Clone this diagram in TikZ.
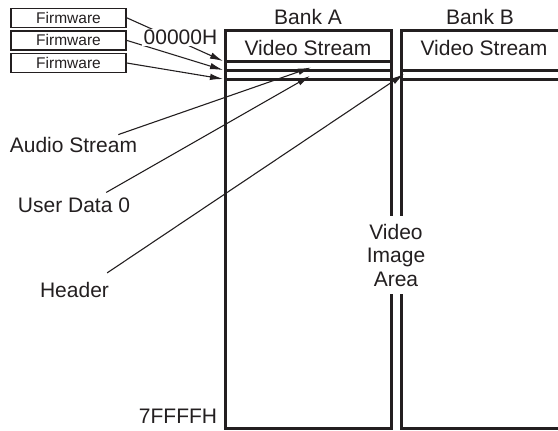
\documentclass[tikz,border=0pt]{standalone}
\usepackage{fontspec}
\setmainfont{Liberation Sans}
\usetikzlibrary{arrows.meta, positioning}
\definecolor{ink}{HTML}{231F20}

\begin{document}
\begin{tikzpicture}[
  x=1pt, y=-1pt, color=ink,
  bank/.style={rectangle, draw, line width=3pt, minimum width=166pt, minimum height=398pt, inner sep=0pt},
  firmware/.style={rectangle, draw, line width=1.6pt, minimum width=115pt, minimum height=19pt, inner sep=0pt, font=\fontsize{15.5}{17}\selectfont},
  lbl/.style={inner sep=2pt, font=\fontsize{21}{23.5}\selectfont},
  divider/.style={line width=3pt},
  pointer/.style={line width=1.1pt, -{Latex[length=13pt,width=6.5pt]}}
]
\clip (0,0) rectangle (558,431);

% Memory banks
\node[bank] (bankA) at (308,229) {};
\node[bank] (bankB) at (484,229) {};
\node[lbl, above=2pt of bankA] (bankAlbl) {Bank A};
\node[lbl, above=2pt of bankB, xshift=-4pt] (bankBlbl) {Bank B};

% Row dividers
\draw[divider] (225,61) -- (391,61);
\draw[divider] (225,70) -- (391,70);
\draw[divider] (225,79) -- (391,79);
\draw[divider] (401,70) -- (567,70);
\draw[divider] (401,79) -- (567,79);

\node[lbl] (streamA) at (308,47.5) {Video Stream};
\node[lbl] (streamB) at (484,47.5) {Video Stream};

% Firmware blocks
\node[firmware] (fw1) at (68.5,17.8) {Firmware};
\node[firmware, below=2pt of fw1] (fw2) {Firmware};
\node[firmware, below=2pt of fw2] (fw3) {Firmware};

\coordinate (fwTip1) at (223,61);
\coordinate (fwTip2) at (223,70);
\coordinate (fwTip3) at (223,79);
\draw[pointer] (fw1.east) -- (fwTip1);
\draw[pointer] (fw2.east) -- (fwTip2);
\draw[pointer] (fw3.east) -- (fwTip3);

% Addresses
\node[lbl, fill=white, inner sep=1.5pt] (startAddr) at (180.5,37.5) {00000H};
\node[lbl, anchor=base] (endAddr) at (178,423) {7FFFFH};

% Stream labels
\node[lbl, anchor=base] (audio) at (73.5,152) {Audio Stream};
\node[lbl, anchor=base] (userdata) at (74,212) {User Data 0};
\node[lbl, anchor=base] (header) at (74.5,297) {Header};

\coordinate (audioTip) at (311,67.5);
\coordinate (userTip) at (310,76);
\coordinate (headerTip) at (404,74);
\draw[pointer] ([xshift=-21pt]audio.north east) -- (audioTip);
\draw[pointer] ([xshift=-26pt,yshift=2.7pt]userdata.north east) -- (userTip);
\draw[pointer] ([xshift=-4pt,yshift=6.7pt]header.north east) -- (headerTip);

% Image area label
\node[lbl, fill=white, align=center, inner xsep=3pt, inner ysep=8pt] (imgArea) at (396,255) {Video\\Image\\Area};

\end{tikzpicture}
\end{document}
